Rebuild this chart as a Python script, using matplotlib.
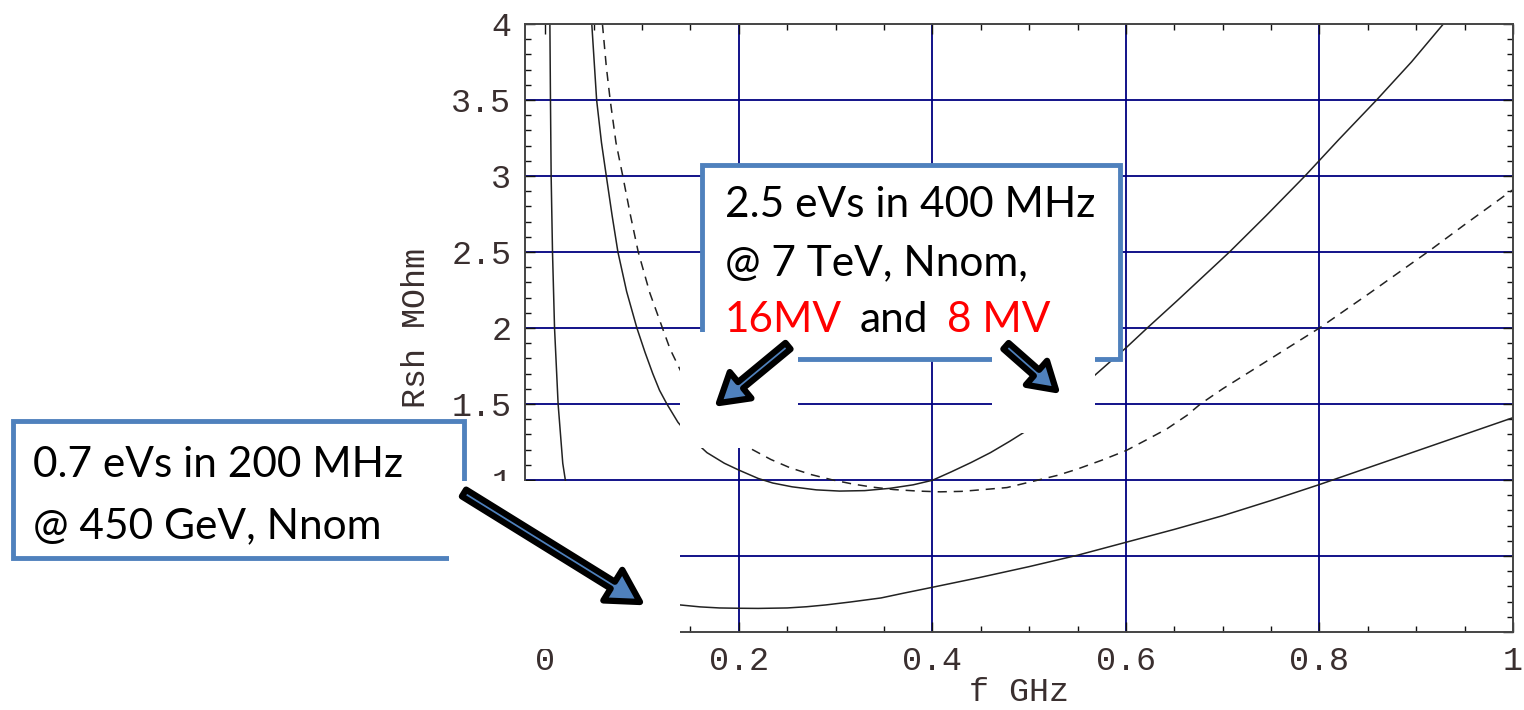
import matplotlib
matplotlib.use("Agg")
import matplotlib.pyplot as plt
from matplotlib.patches import Rectangle, FancyArrow

# curves: f in GHz, Rsh in MOhm
# 0.7 eVs, 200 MHz, 450 GeV
f_200 = [0.0047, 0.0053, 0.006, 0.0074, 0.0095, 0.0132, 0.018, 0.025, 0.035, 0.05, 0.07, 0.09,
         0.11, 0.139, 0.16, 0.18, 0.2, 0.22, 0.25, 0.27, 0.29, 0.315, 0.347, 0.37, 0.4, 0.45,
         0.5, 0.55, 0.6, 0.65, 0.7, 0.75, 0.8, 0.85, 0.9, 0.95, 1.0]
r_200 = [4.0, 3.5, 3.0, 2.5, 2.0, 1.5, 1.11, 0.82, 0.6, 0.43, 0.32, 0.25,
         0.21, 0.178, 0.165, 0.158, 0.156, 0.155, 0.158, 0.166, 0.178, 0.197, 0.224, 0.255, 0.294, 0.36,
         0.43, 0.505, 0.59, 0.675, 0.765, 0.865, 0.97, 1.08, 1.19, 1.30, 1.41]

# 2.5 eVs, 400 MHz, 7 TeV, 16 MV
f_16mv = [0.048, 0.050, 0.053, 0.058, 0.063, 0.069, 0.075, 0.084, 0.0946, 0.103, 0.111, 0.118,
          0.1256, 0.137, 0.15, 0.167, 0.185, 0.2, 0.22, 0.235, 0.255, 0.28, 0.304, 0.33, 0.356,
          0.38, 0.4, 0.42, 0.44, 0.46, 0.48, 0.5, 0.53, 0.568, 0.601, 0.622, 0.653, 0.68, 0.707,
          0.745, 0.785, 0.82, 0.859, 0.895, 0.928]
r_16mv = [4.0, 3.8, 3.5, 3.22, 3.0, 2.74, 2.5, 2.24, 2.0, 1.84, 1.70, 1.59,
          1.5, 1.38, 1.28, 1.18, 1.11, 1.065, 1.01, 0.98, 0.955, 0.935, 0.927, 0.93, 0.945,
          0.968, 0.998, 1.055, 1.115, 1.18, 1.255, 1.335, 1.48, 1.69, 1.875, 2.0, 2.18, 2.34, 2.5,
          2.74, 3.0, 3.24, 3.5, 3.75, 4.0]

# 2.5 eVs, 400 MHz, 7 TeV, 8 MV
f_8mv = [0.059, 0.063, 0.067, 0.073, 0.080, 0.088, 0.096, 0.108, 0.121, 0.129, 0.145, 0.16, 0.18,
         0.2, 0.214, 0.233, 0.253, 0.275, 0.297, 0.318, 0.338, 0.36, 0.385, 0.408, 0.43, 0.455,
         0.477, 0.507, 0.529, 0.549, 0.575, 0.6, 0.62, 0.642, 0.663, 0.677, 0.7, 0.75, 0.8, 0.852,
         0.914, 0.95, 0.989, 1.0]
r_8mv = [4.0, 3.72, 3.5, 3.22, 3.0, 2.74, 2.5, 2.23, 2.0, 1.86, 1.65, 1.5, 1.36,
         1.26, 1.2, 1.135, 1.08, 1.035, 1.0, 0.973, 0.953, 0.937, 0.927, 0.922, 0.925, 0.938,
         0.95, 0.996, 1.03, 1.07, 1.13, 1.193, 1.26, 1.335, 1.425, 1.5, 1.6, 1.80, 2.0, 2.23,
         2.51, 2.68, 2.86, 2.91]

x_ticks = [0, 0.2, 0.4, 0.6, 0.8, 1.0]
x_ticklabels = ['0', '0.2', '0.4', '0.6', '0.8', '1']
y_ticks = [0, 0.5, 1, 1.5, 2, 2.5, 3, 3.5, 4]
y_ticklabels = ['0', '0.5', '1', '1.5', '2', '2.5', '3', '3.5', '4']
grid_x = [0.2, 0.4, 0.6, 0.8]
grid_y = [0.5, 1, 1.5, 2, 2.5, 3, 3.5]

mono = 'Liberation Mono'
txt_font = 'Lato'
blue = '#4F81BD'
lab_col = '#3a2f2f'

fig = plt.figure(figsize=(15.24, 7.10), dpi=100)
ax = fig.add_axes([0.3445, 0.1099, 0.6483, 0.8563])

for g in grid_x:
    ax.axvline(g, color='#000080', lw=1.3, zorder=1)
for g in grid_y:
    ax.axhline(g, color='#000080', lw=1.3, zorder=1)

ax.plot(f_200, r_200, color='#222222', lw=1.1, zorder=2)
ax.plot(f_16mv, r_16mv, color='#222222', lw=1.1, zorder=2)
ax.plot(f_8mv, r_8mv, color='#222222', lw=1.1, ls=(0, (6, 4.5)), zorder=2)

ax.set_xlim(-0.021, 1.0)
ax.set_ylim(0, 4)
ax.set_xticks(x_ticks)
ax.set_xticklabels(x_ticklabels)
ax.set_yticks(y_ticks)
ax.set_yticklabels(y_ticklabels)
ax.set_xticks([i * 0.05 for i in range(21)], minor=True)
ax.set_yticks([i * 0.1 for i in range(41)], minor=True)
ax.tick_params(which='both', direction='in', top=True, right=True, color='#111111', width=1.0)
ax.tick_params(which='major', length=7, labelsize=24, labelcolor=lab_col, pad=10)
ax.tick_params(which='minor', length=4)
for lab in ax.get_xticklabels() + ax.get_yticklabels():
    lab.set_family(mono)
for s in ax.spines.values():
    s.set_color('#444444')
    s.set_linewidth(1.4)

ax.set_xlabel('f GHz', family=mono, fontsize=24, color=lab_col, labelpad=0)
ax.set_ylabel('Rsh MOhm', family=mono, fontsize=24, color=lab_col, labelpad=14)

# overlay in pixel coordinates for the slide annotations
ov = fig.add_axes([0, 0, 1, 1])
ov.set_xlim(0, 1524)
ov.set_ylim(710, 0)
ov.axis('off')

ov.add_patch(Rectangle((702, 165), 418, 194, fc='white', ec=blue, lw=3.5))
ov.add_patch(Rectangle((13, 421), 451, 137, fc='white', ec=blue, lw=3.5))

fs = 30.5
ov.text(725, 217, '2.5 eVs in 400 MHz', family=txt_font, fontsize=fs, va='baseline')
ov.text(725, 275, '@ 7 TeV, Nnom,', family=txt_font, fontsize=fs, va='baseline')
ov.text(725, 332, '16MV', family=txt_font, fontsize=fs, va='baseline', color='red')
ov.text(860, 332, 'and', family=txt_font, fontsize=fs, va='baseline')
ov.text(947, 332, '8 MV', family=txt_font, fontsize=fs, va='baseline', color='red')

ov.text(33, 477, '0.7 eVs in 200 MHz', family=txt_font, fontsize=fs, va='baseline')
ov.text(33, 538, '@ 450 GeV, Nnom', family=txt_font, fontsize=fs, va='baseline')

# white picture backgrounds of the arrows
for (x0, y0, w, h) in [(449, 481, 231, 168), (680, 332, 118, 116), (798, 332, 194, 23), (992, 332, 103, 101)]:
    ov.add_patch(Rectangle((x0, y0), w, h, fc='white', ec='none'))

for (x0, y0, x1, y1, hw, hl) in [(464, 493, 640, 602, 36, 32), (788, 346, 719, 403, 34, 28), (1006, 346, 1056, 390, 32, 26)]:
    ov.add_patch(FancyArrow(x0, y0, x1 - x0, y1 - y0, width=8, head_width=hw, head_length=hl,
                            length_includes_head=True, fc=blue, ec='black', lw=4.5, joinstyle='round'))

fig.savefig('out.png', dpi=100)
